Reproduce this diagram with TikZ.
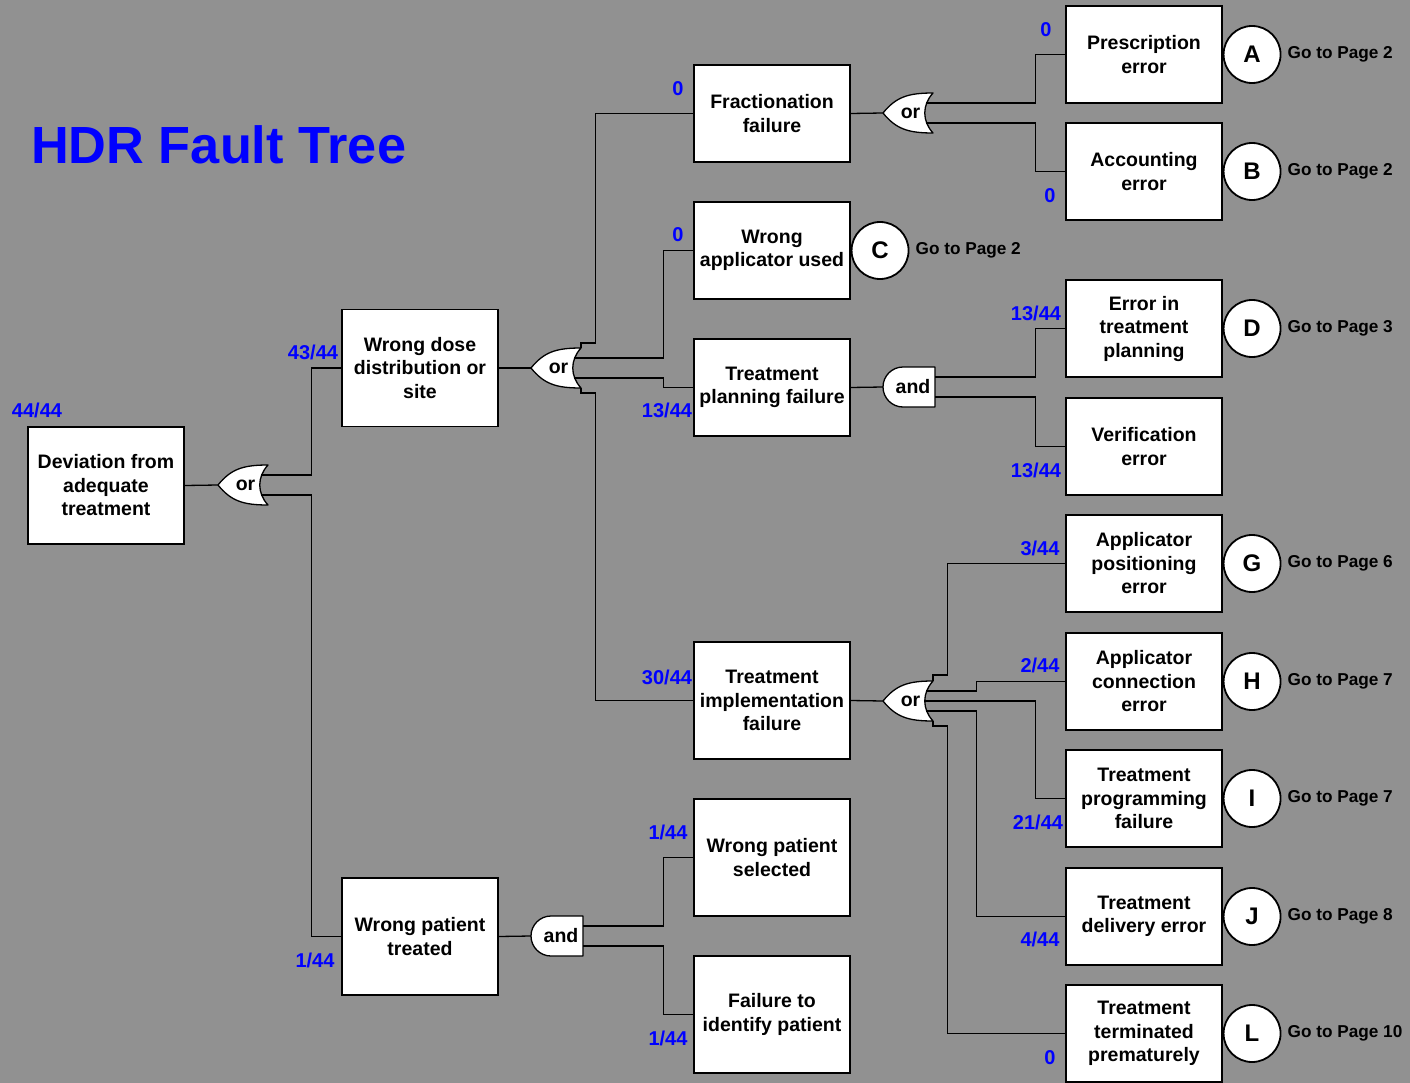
\documentclass[tikz,border=0pt]{standalone}
\usepackage{fontspec}
\setmainfont{Liberation Sans}
\usetikzlibrary{positioning,calc}
\definecolor{bggray}{RGB}{145,145,145}
\definecolor{probblue}{RGB}{0,0,255}
\tikzset{
    event/.style={draw,fill=white,line width=1.3pt,minimum width=156pt,minimum height=97pt,inner sep=2pt,align=center,font=\fontsize{19.5}{23.5}\selectfont\bfseries},
    tallevent/.style={event,minimum height=117pt},
    gateshape/.style={draw,fill=white,line width=1.3pt,line join=round},
    gatetext/.style={inner sep=0pt,font=\fontsize{19.5}{19.5}\selectfont\bfseries},
    prob/.style={inner sep=0pt,text=probblue,font=\fontsize{20}{20}\selectfont\bfseries},
    conn/.style={circle,draw,fill=white,line width=1.8pt,minimum size=57pt,inner sep=0pt,font=\fontsize{24}{24}\selectfont\bfseries},
    goto/.style={inner sep=1pt,font=\fontsize{17.2}{17.2}\selectfont\bfseries},
    orgate/.pic={
        \draw[gateshape] (-25,0) .. controls (-12,-16) and (0,-20) .. (25,-20)
            .. controls (14,-8) and (14,8) .. (25,20)
            .. controls (0,20) and (-12,16) .. (-25,0) -- cycle;
        \node[gatetext] (-lbl) at (2.5,0) {or};
        \coordinate (-tip) at (-25,0);
        \coordinate (-a) at (18,-10);
        \coordinate (-b) at (18,10);
        \coordinate (-m) at (16.5,0);
        \coordinate (-c1) at (25,-20);
        \coordinate (-c2) at (25,20);
    },
    andgate/.pic={
        \draw[gateshape] (26,-20) -- (-6,-20) arc[start angle=270, end angle=90, radius=20] -- (26,20) -- cycle;
        \node[gatetext] (-lbl) at (4,0) {and};
        \coordinate (-tip) at (-26,0);
        \coordinate (-a) at (26,-10);
        \coordinate (-b) at (26,10);
    },
}

\begin{document}
\begin{tikzpicture}[x=1pt,y=-1pt,wire/.style={line width=1.3pt}]
    \useasboundingbox (0,0) rectangle (1410,1083);
    \fill[bggray] (0,0) rectangle (1410,1083);

    \node[anchor=west,inner sep=0pt,text=probblue,font=\fontsize{52.3}{52.3}\selectfont\bfseries] (title) at (31,145) {HDR Fault Tree};

    % events
    \node[tallevent] (dev) at (106,485.5) {Deviation from\\adequate\\treatment};
    \node[tallevent] (wdose) at (420,368) {Wrong dose\\distribution or\\site};
    \node[tallevent] (wpt) at (420,936.5) {Wrong patient\\treated};

    \node[event] (frac) at (772,113.5) {Fractionation\\failure};
    \node[event] (wapp) at (772,250.5) {Wrong\\applicator used};
    \node[event] (tpf) at (772,387.5) {Treatment\\planning failure};
    \node[tallevent] (timp) at (772,700.5) {Treatment\\implementation\\failure};
    \node[tallevent] (wps) at (772,857.5) {Wrong patient\\selected};
    \node[tallevent] (fti) at (772,1014.5) {Failure to\\identify patient};

    \node[event] (presc) at (1144,54.5) {Prescription\\error};
    \node[event] (acct) at (1144,171.5) {Accounting\\error};
    \node[event] (eitp) at (1144,328.5) {Error in\\treatment\\planning};
    \node[event] (verif) at (1144,446.5) {Verification\\error};
    \node[event] (apos) at (1144,563.5) {Applicator\\positioning\\error};
    \node[event] (acon) at (1144,681.5) {Applicator\\connection\\error};
    \node[event] (tprog) at (1144,798.5) {Treatment\\programming\\failure};
    \node[event] (tdel) at (1144,916.5) {Treatment\\delivery error};
    \node[event] (tterm) at (1144,1033.5) {Treatment\\terminated\\prematurely};

    % page connectors
    \node[conn, right=0pt of presc] (ca) {A};
    \node[goto, right=5pt of ca] (pa) {Go to Page 2};
    \node[conn, right=0pt of acct] (cb) {B};
    \node[goto, right=5pt of cb] (pb) {Go to Page 2};
    \node[conn, right=0pt of wapp] (cc) {C};
    \node[goto, right=5pt of cc] (pc) {Go to Page 2};
    \node[conn, right=0pt of eitp] (cd) {D};
    \node[goto, right=5pt of cd] (pd) {Go to Page 3};
    \node[conn, right=0pt of apos] (cg) {G};
    \node[goto, right=5pt of cg] (pg) {Go to Page 6};
    \node[conn, right=0pt of acon] (ch) {H};
    \node[goto, right=5pt of ch] (ph) {Go to Page 7};
    \node[conn, right=0pt of tprog] (ci) {I};
    \node[goto, right=5pt of ci] (pi) {Go to Page 7};
    \node[conn, right=0pt of tdel] (cj) {J};
    \node[goto, right=5pt of cj] (pj) {Go to Page 8};
    \node[conn, right=0pt of tterm] (cl) {L};
    \node[goto, right=5pt of cl] (pl) {Go to Page 10};

    % gates
    \pic (g1) at (243,485) {orgate};
    \pic (g2) at (556,368) {orgate};
    \pic (g3) at (908,113) {orgate};
    \pic (g4) at (909,387) {andgate};
    \pic (g5) at (908,701) {orgate};
    \pic (g6) at (557,936) {andgate};

    % wires
    \draw[wire] (dev.east) -- (g1-tip);
    \draw[wire] (g1-a) -| ([xshift=-30pt]wdose.west) -- (wdose.west);
    \draw[wire] (g1-b) -| ([xshift=-30pt]wpt.west) -- (wpt.west);

    \draw[wire] (wdose.east) -- (g2-tip);
    \draw[wire] (g2-c1) -- ++(0,-5) -| ([xshift=-98pt]frac.west) -- (frac.west);
    \draw[wire] (g2-a) -| ([xshift=-30pt]wapp.west) -- (wapp.west);
    \draw[wire] (g2-b) -| ([xshift=-30pt]tpf.west) -- (tpf.west);
    \draw[wire] (g2-c2) -- ++(0,5) -| ([xshift=-98pt]timp.west) -- (timp.west);

    \draw[wire] (frac.east) -- (g3-tip);
    \draw[wire] (g3-a) -| ([xshift=-30pt]presc.west) -- (presc.west);
    \draw[wire] (g3-b) -| ([xshift=-30pt]acct.west) -- (acct.west);

    \draw[wire] (tpf.east) -- (g4-tip);
    \draw[wire] (g4-a) -| ([xshift=-30pt]eitp.west) -- (eitp.west);
    \draw[wire] (g4-b) -| ([xshift=-30pt]verif.west) -- (verif.west);

    \draw[wire] (timp.east) -- (g5-tip);
    \draw[wire] (g5-c1) -- ++(0,-6) -| ([xshift=-118pt]apos.west) -- (apos.west);
    \draw[wire] (g5-a) -| ([xshift=-89pt]acon.west) -- (acon.west);
    \draw[wire] (g5-m) -| ([xshift=-30pt]tprog.west) -- (tprog.west);
    \draw[wire] (g5-b) -| ([xshift=-89pt]tdel.west) -- (tdel.west);
    \draw[wire] (g5-c2) -- ++(0,5) -| ([xshift=-118pt]tterm.west) -- (tterm.west);

    \draw[wire] (wpt.east) -- (g6-tip);
    \draw[wire] (g6-a) -| ([xshift=-30pt]wps.west) -- (wps.west);
    \draw[wire] (g6-b) -| ([xshift=-30pt]fti.west) -- (fti.west);

    % probabilities
    \node[prob] (p-dev) at (37,410) {44/44};
    \node[prob] (p-wdose) at (313,352) {43/44};
    \node[prob] (p-wpt) at (315,960) {1/44};
    \node[prob] (p-frac) at (678,89) {0};
    \node[prob] (p-wapp) at (678,235) {0};
    \node[prob] (p-tpf) at (667,410) {13/44};
    \node[prob] (p-timp) at (667,677) {30/44};
    \node[prob] (p-wps) at (668,832) {1/44};
    \node[prob] (p-fti) at (668,1038) {1/44};
    \node[prob] (p-presc) at (1046,30) {0};
    \node[prob] (p-acct) at (1050,196) {0};
    \node[prob] (p-eitp) at (1036,313) {13/44};
    \node[prob] (p-verif) at (1036,470) {13/44};
    \node[prob] (p-apos) at (1040,548) {3/44};
    \node[prob] (p-acon) at (1040,665) {2/44};
    \node[prob] (p-tprog) at (1038,822) {21/44};
    \node[prob] (p-tdel) at (1040,939) {4/44};
    \node[prob] (p-tterm) at (1050,1058) {0};
\end{tikzpicture}
\end{document}
